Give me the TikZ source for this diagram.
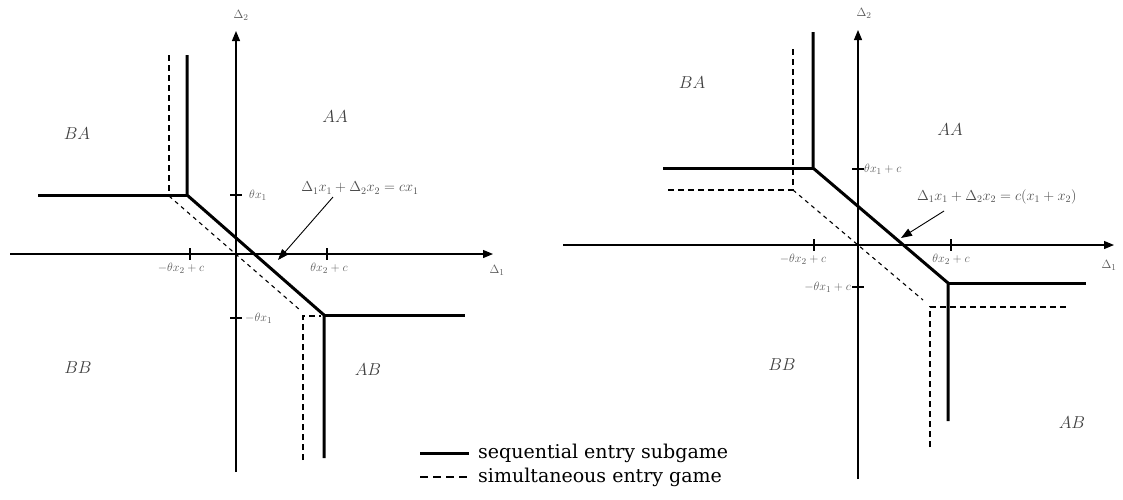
\documentclass[tikz,border=0pt]{standalone}
\usepackage{fontspec}
\newfontfamily\legendfont{DejaVu Serif}
\usetikzlibrary{arrows.meta}
\begin{document}
\begin{tikzpicture}[x=1pt,y=-1pt,
  axis/.style={line width=1.2pt,-{Triangle[length=10pt,width=8pt]}},
  seq/.style={line width=3pt,line join=miter},
  sim/.style={line width=1.2pt,dash pattern=on 6pt off 4pt},
  simdiag/.style={line width=1.1pt,dash pattern=on 4pt off 4pt},
  tick/.style={line width=1.1pt},
  lbl/.style={font=\fontsize{12.5}{14}\selectfont,text=black!65,inner sep=1pt},
  axlbl/.style={font=\fontsize{13}{15}\selectfont,text=black!65,inner sep=1pt},
  region/.style={font=\fontsize{17}{19}\selectfont,text=black!75},
  eqn/.style={font=\fontsize{14}{16}\selectfont,text=black!70,inner sep=1pt},
  pointer/.style={line width=0.9pt,-{Triangle[length=11pt,width=8pt]}},
  legtext/.style={anchor=base west,font=\legendfont\fontsize{19}{21}\selectfont,inner sep=0pt}]
\useasboundingbox (0,0) rectangle (1123,499);
% ---------- left diagram ----------
\coordinate (Lxs) at (10,254); \coordinate (Lxe) at (493,254);
\coordinate (Lys) at (236,472); \coordinate (Lye) at (236,31);
\draw[axis] (Lxs) -- (Lxe);
\draw[axis] (Lys) -- (Lye);
\node[axlbl] (LD1) at (497,270) {$\Delta_1$};
\node[axlbl] (LD2) at (241,15) {$\Delta_2$};
% ticks
\draw[tick] (190,248) -- (190,260);
\draw[tick] (327,248) -- (327,260);
\draw[tick] (230,195) -- (242,195);
\draw[tick] (230,318) -- (242,318);
\node[lbl] (Lt1) at (181,268) {$-\theta x_2+c$};
\node[lbl] (Lt2) at (329,268) {$\theta x_2+c$};
\node[lbl,anchor=west] (Lt3) at (248,195) {$\theta x_1$};
\node[lbl,anchor=west] (Lt4) at (244,318) {$-\theta x_1$};
% sequential (solid)
\coordinate (La1) at (187,55); \coordinate (La2) at (187,195);
\coordinate (La3) at (324,315); \coordinate (La4) at (324,458);
\coordinate (La5) at (38,195); \coordinate (La6) at (465,315);
\draw[seq] (La1) -- (La2) -- (La3) -- (La4);
\draw[seq] (La5) -- (La2);
\draw[seq] (La3) -- (La6);
% simultaneous (dashed)
\coordinate (Lb1) at (169,55); \coordinate (Lb2) at (169,196);
\coordinate (Lb3) at (300,310); \coordinate (Lb4) at (303,316);
\coordinate (Lb5) at (303,460); \coordinate (Lb6) at (321,316);
\draw[sim] (Lb1) -- (Lb2);
\draw[simdiag] (Lb2) -- (Lb3);
\draw[sim] (Lb5) -- (Lb4) -- (Lb6);
% regions
\node[region] (LBA) at (77,134) {$BA$};
\node[region] (LAA) at (335,117) {$AA$};
\node[region] (LBB) at (78,368) {$BB$};
\node[region] (LAB) at (368,370) {$AB$};
% equation
\node[eqn] (Leq) at (360,188) {$\Delta_1x_1+\Delta_2x_2=cx_1$};
\coordinate (Lps) at (333,197);
\coordinate (Ltip) at (278,260);
\draw[pointer] (Lps) -- (Ltip);
% ---------- right diagram ----------
\coordinate (Rxs) at (563,245); \coordinate (Rxe) at (1114,245);
\coordinate (Rys) at (858,479); \coordinate (Rye) at (858,30);
\draw[axis] (Rxs) -- (Rxe);
\draw[axis] (Rys) -- (Rye);
\node[axlbl] (RD1) at (1109,265) {$\Delta_1$};
\node[axlbl] (RD2) at (864,13) {$\Delta_2$};
% ticks
\draw[tick] (814,239) -- (814,251);
\draw[tick] (951,239) -- (951,251);
\draw[tick] (852,169) -- (864,169);
\draw[tick] (852,287) -- (864,287);
\node[lbl] (Rt1) at (803,259) {$-\theta x_2+c$};
\node[lbl] (Rt2) at (951,259) {$\theta x_2+c$};
\node[lbl,anchor=west] (Rt3) at (863,169) {$\theta x_1+c$};
\node[lbl,anchor=east] (Rt4) at (852,287) {$-\theta x_1+c$};
% sequential (solid)
\coordinate (Ra1) at (813,32); \coordinate (Ra2) at (813,168);
\coordinate (Ra3) at (948,283); \coordinate (Ra4) at (948,421);
\coordinate (Ra5) at (663,168); \coordinate (Ra6) at (1086,283);
\draw[seq] (Ra1) -- (Ra2) -- (Ra3) -- (Ra4);
\draw[seq] (Ra5) -- (Ra2);
\draw[seq] (Ra3) -- (Ra6);
% simultaneous (dashed)
\coordinate (Rb1) at (793,49); \coordinate (Rb2) at (793,190);
\coordinate (Rb3) at (923,300); \coordinate (Rb4) at (668,190);
\coordinate (Rb5) at (930,447); \coordinate (Rb6) at (930,307);
\coordinate (Rb7) at (1068,307);
\draw[sim] (Rb1) -- (Rb2);
\draw[sim] (Rb4) -- (Rb2);
\draw[simdiag] (Rb2) -- (Rb3);
\draw[sim] (Rb5) -- (Rb6) -- (Rb7);
% regions
\node[region] (RBA) at (692,83) {$BA$};
\node[region] (RAA) at (950,130) {$AA$};
\node[region] (RBB) at (782,365) {$BB$};
\node[region] (RAB) at (1072,423) {$AB$};
% equation
\node[eqn,anchor=west] (Req) at (916,197) {$\Delta_1x_1+\Delta_2x_2=c(x_1+x_2)$};
\coordinate (Rps) at (944,211);
\coordinate (Rtip) at (901,238);
\draw[pointer] (Rps) -- (Rtip);
% ---------- legend ----------
\coordinate (g1) at (420,453); \coordinate (g2) at (469,453);
\coordinate (g3) at (420,477); \coordinate (g4) at (469,477);
\draw[line width=3pt] (g1) -- (g2);
\draw[line width=1.2pt,dash pattern=on 8pt off 5pt] (g3) -- (g4);
\node[legtext] (leg1) at (478,458) {sequential entry subgame};
\node[legtext] (leg2) at (478,482) {simultaneous entry game};
\end{tikzpicture}
\end{document}
